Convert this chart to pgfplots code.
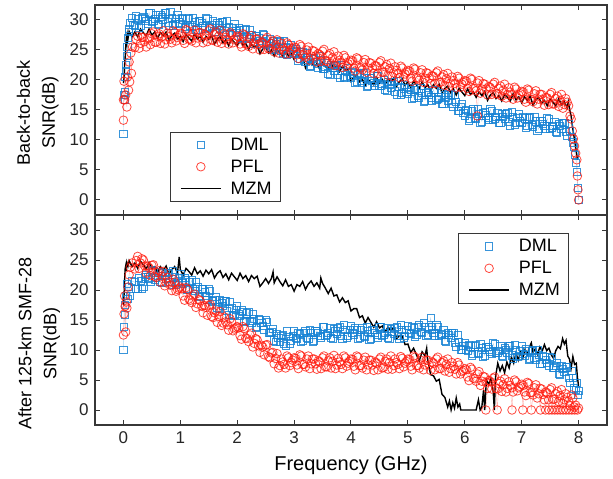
\documentclass[border=0pt]{standalone}
\usepackage{pgfplots}
\usepackage{pgfplotstable}
\pgfplotsset{compat=1.18}
\usepackage{fontspec}
\setmainfont{Liberation Sans}
\definecolor{dmlblue}{RGB}{22,130,212}
\definecolor{pflred}{RGB}{255,28,15}
\definecolor{axgray}{RGB}{55,55,55}

\pgfplotstableread[row sep=\\]{x y\\
0 11.0\\ 0.01 17.5\\ 0.02 16.7\\ 0.03 18.0\\ 0.03 20.5\\ 0.04 21.5\\ 0.05 22.5\\ 0.06 24.0\\ 0.07 25.5\\ 0.08 27.0\\ 0.09 28.0\\ 0.1 28.5\\ 0.12 29.5\\
0.15 30.4\\ 0.20 29.0\\ 0.25 30.1\\ 0.30 29.0\\ 0.35 30.5\\ 0.40 29.8\\ 0.45 31.2\\ 0.50 29.7\\ 0.55 30.2\\ 0.60 29.3\\ 0.65 30.9\\ 0.70 30.1\\ 0.75 31.1\\ 0.80 29.0\\ 0.85 30.4\\ 0.90 29.4\\ 0.95 30.9\\ 1.00 29.4\\ 1.05 30.1\\ 1.10 28.9\\
1.15 30.4\\ 1.20 28.9\\ 1.25 29.7\\ 1.30 28.4\\ 1.35 29.9\\ 1.40 29.0\\ 1.45 30.4\\ 1.50 28.7\\ 1.55 29.1\\ 1.60 28.1\\ 1.65 29.5\\ 1.70 28.6\\ 1.75 29.6\\ 1.80 27.5\\ 1.85 28.8\\ 1.90 27.8\\ 1.95 29.3\\ 2.00 27.8\\ 2.05 28.4\\ 2.10 27.0\\
2.15 28.5\\ 2.20 26.8\\ 2.25 27.5\\ 2.30 26.1\\ 2.35 27.4\\ 2.40 26.5\\ 2.45 27.7\\ 2.50 25.9\\ 2.55 26.2\\ 2.60 25.2\\ 2.65 26.5\\ 2.70 25.5\\ 2.75 26.5\\ 2.80 24.3\\ 2.85 25.5\\ 2.90 24.4\\ 2.95 25.9\\ 3.00 24.3\\ 3.05 24.9\\ 3.10 23.6\\
3.15 24.6\\ 3.20 23.0\\ 3.25 23.7\\ 3.30 22.3\\ 3.35 23.7\\ 3.40 22.7\\ 3.45 24.0\\ 3.50 21.8\\ 3.55 22.2\\ 3.60 21.1\\ 3.65 22.5\\ 3.70 21.5\\ 3.75 22.5\\ 3.80 20.3\\ 3.85 21.6\\ 3.90 20.5\\ 3.95 22.0\\ 4.00 20.4\\ 4.05 21.1\\ 4.10 19.7\\
4.15 21.2\\ 4.20 19.6\\ 4.25 20.4\\ 4.30 19.0\\ 4.35 20.4\\ 4.40 19.5\\ 4.45 20.7\\ 4.50 19.0\\ 4.55 19.4\\ 4.60 18.3\\ 4.65 19.7\\ 4.70 18.7\\ 4.75 19.7\\ 4.80 17.6\\ 4.85 18.8\\ 4.90 17.8\\ 4.95 19.2\\ 5.00 17.7\\ 5.05 18.4\\ 5.10 17.1\\
5.15 18.6\\ 5.20 17.0\\ 5.25 17.9\\ 5.30 16.6\\ 5.35 18.0\\ 5.40 17.1\\ 5.45 18.4\\ 5.50 16.7\\ 5.55 17.1\\ 5.60 16.1\\ 5.65 17.5\\ 5.70 16.6\\ 5.75 17.6\\ 5.80 15.5\\ 5.85 16.4\\ 5.90 14.9\\ 5.95 16.0\\ 6.00 14.0\\ 6.05 14.8\\ 6.10 13.5\\
6.15 15.1\\ 6.20 13.5\\ 6.25 14.4\\ 6.30 13.1\\ 6.35 14.6\\ 6.40 13.7\\ 6.45 15.1\\ 6.50 13.4\\ 6.55 13.8\\ 6.60 12.9\\ 6.65 14.3\\ 6.70 13.5\\ 6.75 14.5\\ 6.80 12.4\\ 6.85 13.8\\ 6.90 12.8\\ 6.95 14.4\\ 7.00 12.9\\ 7.05 13.6\\ 7.10 12.3\\
7.15 13.8\\ 7.20 12.2\\ 7.25 13.1\\ 7.30 11.8\\ 7.35 13.2\\ 7.40 12.3\\ 7.45 13.6\\ 7.50 11.9\\ 7.55 12.3\\ 7.60 11.3\\ 7.65 12.7\\ 7.70 11.8\\ 7.75 12.8\\ 7.80 10.7\\ 7.85 11.5\\ 7.88 10.5\\ 7.90 9.6\\ 7.92 8.8\\ 7.94 7.5\\ 7.96 6.2\\ 7.97 4.7\\ 7.99 2.0\\ 8.00 0.0\\
}\dmlA

\pgfplotstableread[row sep=\\]{x y\\
0.175 29.2\\ 0.225 30.7\\ 0.275 28.7\\ 0.325 30.4\\ 0.375 30.2\\ 0.425 29.4\\ 0.475 31.1\\ 0.525 29.9\\ 0.575 30.9\\ 0.625 29.2\\ 0.675 30.5\\ 0.725 31.1\\ 0.775 29.6\\ 0.825 31.3\\ 0.875 29.1\\ 0.925 30.2\\ 0.975 29.6\\ 1.025 30.4\\ 1.075 28.6\\ 1.125 30.2\\
1.175 29.1\\ 1.225 30.4\\ 1.275 28.3\\ 1.325 29.8\\ 1.375 29.5\\ 1.425 28.6\\ 1.475 30.2\\ 1.525 28.9\\ 1.575 29.8\\ 1.625 28.0\\ 1.675 29.1\\ 1.725 29.6\\ 1.775 28.1\\ 1.825 29.8\\ 1.875 27.6\\ 1.925 28.7\\ 1.975 28.1\\ 2.025 28.7\\ 2.075 26.8\\ 2.125 28.3\\
2.175 27.1\\ 2.225 28.3\\ 2.275 26.0\\ 2.325 27.4\\ 2.375 27.0\\ 2.425 26.0\\ 2.475 27.5\\ 2.525 26.0\\ 2.575 26.9\\ 2.625 25.0\\ 2.675 26.0\\ 2.725 26.4\\ 2.775 24.9\\ 2.825 26.5\\ 2.875 24.2\\ 2.925 25.3\\ 2.975 24.6\\ 3.025 25.2\\ 3.075 23.2\\ 3.125 24.6\\
3.175 23.4\\ 3.225 24.5\\ 3.275 22.2\\ 3.325 23.5\\ 3.375 23.0\\ 3.425 22.0\\ 3.475 23.4\\ 3.525 21.9\\ 3.575 22.8\\ 3.625 20.9\\ 3.675 22.0\\ 3.725 22.4\\ 3.775 20.9\\ 3.825 22.5\\ 3.875 20.3\\ 3.925 21.3\\ 3.975 20.7\\ 4.025 21.3\\ 4.075 19.5\\ 4.125 21.0\\
4.175 19.9\\ 4.225 21.1\\ 4.275 18.9\\ 4.325 20.4\\ 4.375 19.9\\ 4.425 19.0\\ 4.475 20.6\\ 4.525 19.1\\ 4.575 20.0\\ 4.625 18.2\\ 4.675 19.2\\ 4.725 19.7\\ 4.775 18.1\\ 4.825 19.8\\ 4.875 17.6\\ 4.925 18.6\\ 4.975 18.0\\ 5.025 18.7\\ 5.075 16.9\\ 5.125 18.4\\
5.175 17.3\\ 5.225 18.6\\ 5.275 16.4\\ 5.325 17.9\\ 5.375 17.5\\ 5.425 16.6\\ 5.475 18.3\\ 5.525 16.9\\ 5.575 17.8\\ 5.625 16.0\\ 5.675 17.1\\ 5.725 17.6\\ 5.775 16.1\\ 5.825 17.5\\ 5.875 14.9\\ 5.925 15.5\\ 5.975 14.5\\ 6.025 15.0\\ 6.075 13.2\\ 6.125 14.8\\
6.175 13.7\\ 6.225 15.1\\ 6.275 12.9\\ 6.325 14.5\\ 6.375 14.1\\ 6.425 13.3\\ 6.475 14.9\\ 6.525 13.6\\ 6.575 14.5\\ 6.625 12.8\\ 6.675 13.9\\ 6.725 14.4\\ 6.775 13.0\\ 6.825 14.7\\ 6.875 12.6\\ 6.925 13.7\\ 6.975 13.1\\ 7.025 13.9\\ 7.075 12.1\\ 7.125 13.6\\
7.175 12.5\\ 7.225 13.8\\ 7.275 11.6\\ 7.325 13.1\\ 7.375 12.7\\ 7.425 11.8\\ 7.475 13.5\\ 7.525 12.1\\ 7.575 13.0\\ 7.625 11.2\\ 7.675 12.3\\ 7.725 12.8\\ 7.775 11.3\\ 7.825 12.7\\
}\dmlAb

\pgfplotstableread[row sep=\\]{x y\\
0 13.3\\ 0 16.7\\ 0.01 19.8\\ 0.02 16.7\\ 0.04 17.5\\ 0.06 15.5\\ 0.07 20.5\\ 0.09 18.3\\ 0.1 23.0\\ 0.11 19.7\\ 0.13 24.5\\ 0.14 21.1\\ 0.16 25.5\\
0.20 25.4\\ 0.25 27.3\\ 0.30 26.1\\ 0.35 27.1\\ 0.40 25.5\\ 0.45 26.9\\ 0.50 27.7\\ 0.55 26.3\\ 0.60 27.3\\ 0.65 26.1\\ 0.70 28.2\\ 0.75 26.7\\ 0.80 27.2\\ 0.85 26.2\\ 0.90 27.9\\ 0.95 27.1\\ 1.00 27.8\\ 1.05 26.6\\ 1.10 28.4\\ 1.15 26.8\\
1.20 26.5\\ 1.25 28.3\\ 1.30 27.0\\ 1.35 27.9\\ 1.40 26.2\\ 1.45 27.5\\ 1.50 28.2\\ 1.55 26.7\\ 1.60 27.6\\ 1.65 26.3\\ 1.70 28.3\\ 1.75 26.7\\ 1.80 27.1\\ 1.85 26.0\\ 1.90 27.6\\ 1.95 26.7\\ 2.00 27.3\\ 2.05 26.0\\ 2.10 27.7\\ 2.15 26.0\\
2.20 25.6\\ 2.25 27.4\\ 2.30 26.0\\ 2.35 26.8\\ 2.40 25.0\\ 2.45 26.2\\ 2.50 26.8\\ 2.55 25.2\\ 2.60 26.1\\ 2.65 24.7\\ 2.70 26.7\\ 2.75 25.1\\ 2.80 25.5\\ 2.85 24.3\\ 2.90 25.9\\ 2.95 24.9\\ 3.00 25.5\\ 3.05 24.2\\ 3.10 25.9\\ 3.15 24.2\\
3.20 23.8\\ 3.25 25.5\\ 3.30 24.0\\ 3.35 24.8\\ 3.40 23.0\\ 3.45 24.2\\ 3.50 24.8\\ 3.55 23.2\\ 3.60 24.1\\ 3.65 22.7\\ 3.70 24.7\\ 3.75 23.0\\ 3.80 23.3\\ 3.85 22.1\\ 3.90 23.7\\ 3.95 22.7\\ 4.00 23.3\\ 4.05 22.0\\ 4.10 23.7\\ 4.15 22.1\\
4.20 21.7\\ 4.25 23.4\\ 4.30 22.0\\ 4.35 22.8\\ 4.40 21.1\\ 4.45 22.3\\ 4.50 22.9\\ 4.55 21.3\\ 4.60 22.2\\ 4.65 20.8\\ 4.70 22.8\\ 4.75 21.2\\ 4.80 21.6\\ 4.85 20.4\\ 4.90 22.0\\ 4.95 21.0\\ 5.00 21.6\\ 5.05 20.3\\ 5.10 22.0\\ 5.15 20.4\\
5.20 20.0\\ 5.25 21.7\\ 5.30 20.3\\ 5.35 21.1\\ 5.40 19.4\\ 5.45 20.6\\ 5.50 21.2\\ 5.55 19.6\\ 5.60 20.5\\ 5.65 19.1\\ 5.70 21.1\\ 5.75 19.5\\ 5.80 19.9\\ 5.85 18.7\\ 5.90 20.3\\ 5.95 19.3\\ 6.00 19.9\\ 6.05 18.6\\ 6.10 20.3\\ 6.15 18.6\\
6.20 18.2\\ 6.22 14.0\\ 6.25 19.9\\ 6.30 18.5\\ 6.35 19.3\\ 6.40 17.5\\ 6.45 18.7\\ 6.50 19.3\\ 6.55 17.7\\ 6.60 18.6\\ 6.65 17.3\\ 6.70 19.3\\ 6.75 17.6\\ 6.80 18.0\\ 6.85 16.8\\ 6.90 18.5\\ 6.95 17.5\\ 7.00 18.1\\ 7.05 16.8\\ 7.10 18.5\\ 7.15 16.8\\
7.20 16.4\\ 7.25 18.2\\ 7.30 16.8\\ 7.35 17.6\\ 7.40 15.8\\ 7.45 17.0\\ 7.50 17.6\\ 7.55 16.0\\ 7.60 16.9\\ 7.65 15.6\\ 7.70 17.6\\ 7.75 15.9\\ 7.80 16.3\\ 7.85 14.0\\ 7.87 13.5\\ 7.89 11.5\\ 7.91 10.2\\ 7.93 9.0\\ 7.95 7.8\\ 7.97 6.7\\ 7.98 4.0\\ 7.99 1.7\\ 8.00 0.0\\
}\pflA

\pgfplotstableread[row sep=\\]{x y\\
0.225 26.8\\ 0.275 25.3\\ 0.325 27.1\\ 0.375 26.4\\ 0.425 27.0\\ 0.475 25.9\\ 0.525 28.0\\ 0.575 26.3\\ 0.625 27.7\\ 0.675 27.2\\ 0.725 26.0\\ 0.775 27.8\\ 0.825 26.8\\ 0.875 28.2\\ 0.925 26.5\\ 0.975 27.4\\ 1.025 27.7\\ 1.075 26.1\\ 1.125 28.2\\ 1.175 26.8\\
1.225 27.8\\ 1.275 26.2\\ 1.325 27.9\\ 1.375 27.1\\ 1.425 27.6\\ 1.475 26.4\\ 1.525 28.5\\ 1.575 26.6\\ 1.625 28.0\\ 1.675 27.3\\ 1.725 26.1\\ 1.775 27.7\\ 1.825 26.7\\ 1.875 27.9\\ 1.925 26.2\\ 1.975 26.9\\ 2.025 27.2\\ 2.075 25.5\\ 2.125 27.5\\ 2.175 26.0\\
2.225 26.9\\ 2.275 25.2\\ 2.325 26.8\\ 2.375 25.9\\ 2.425 26.3\\ 2.475 25.1\\ 2.525 27.1\\ 2.575 25.2\\ 2.625 26.5\\ 2.675 25.8\\ 2.725 24.5\\ 2.775 26.1\\ 2.825 25.0\\ 2.875 26.2\\ 2.925 24.4\\ 2.975 25.2\\ 3.025 25.4\\ 3.075 23.6\\ 3.125 25.6\\ 3.175 24.1\\
3.225 25.0\\ 3.275 23.3\\ 3.325 24.9\\ 3.375 24.0\\ 3.425 24.4\\ 3.475 23.1\\ 3.525 25.1\\ 3.575 23.1\\ 3.625 24.4\\ 3.675 23.7\\ 3.725 22.4\\ 3.775 24.0\\ 3.825 22.9\\ 3.875 24.1\\ 3.925 22.3\\ 3.975 23.0\\ 4.025 23.2\\ 4.075 21.5\\ 4.125 23.5\\ 4.175 22.0\\
4.225 22.9\\ 4.275 21.3\\ 4.325 22.9\\ 4.375 22.0\\ 4.425 22.4\\ 4.475 21.1\\ 4.525 23.2\\ 4.575 21.3\\ 4.625 22.6\\ 4.675 21.9\\ 4.725 20.6\\ 4.775 22.2\\ 4.825 21.1\\ 4.875 22.3\\ 4.925 20.5\\ 4.975 21.3\\ 5.025 21.5\\ 5.075 19.8\\ 5.125 21.8\\ 5.175 20.3\\
5.225 21.2\\ 5.275 19.6\\ 5.325 21.2\\ 5.375 20.3\\ 5.425 20.7\\ 5.475 19.4\\ 5.525 21.5\\ 5.575 19.6\\ 5.625 20.9\\ 5.675 20.2\\ 5.725 18.9\\ 5.775 20.5\\ 5.825 19.4\\ 5.875 20.6\\ 5.925 18.8\\ 5.975 19.6\\ 6.025 19.8\\ 6.075 18.1\\ 6.125 20.1\\ 6.175 18.6\\
6.225 19.5\\ 6.275 17.8\\ 6.325 19.4\\ 6.375 18.5\\ 6.425 18.9\\ 6.475 17.6\\ 6.525 19.6\\ 6.575 17.7\\ 6.625 19.0\\ 6.675 18.3\\ 6.725 17.0\\ 6.775 18.7\\ 6.825 17.6\\ 6.875 18.8\\ 6.925 17.0\\ 6.975 17.7\\ 7.025 18.0\\ 7.075 16.3\\ 7.125 18.3\\ 7.175 16.8\\
7.225 17.7\\ 7.275 16.0\\ 7.325 17.6\\ 7.375 16.7\\ 7.425 17.1\\ 7.475 15.9\\ 7.525 17.9\\ 7.575 16.0\\ 7.625 17.3\\ 7.675 16.6\\ 7.725 15.3\\ 7.775 16.9\\ 7.825 15.7\\
}\pflAb

\pgfplotstableread[row sep=\\]{x y\\
0 19.5\\ 0.01 20.5\\ 0.02 22.5\\ 0.03 23.8\\ 0.04 25.5\\ 0.05 26.8\\ 0.06 26.2\\ 0.07 27.5\\ 0.08 26.9\\
0.10 28.1\\ 0.15 27.2\\ 0.20 28.0\\ 0.25 27.2\\ 0.30 28.5\\ 0.35 27.9\\ 0.40 27.4\\ 0.45 28.5\\ 0.50 27.5\\ 0.55 28.0\\ 0.60 27.0\\ 0.65 27.9\\ 0.70 27.4\\ 0.75 28.0\\ 0.80 26.6\\ 0.85 27.4\\
0.90 27.8\\ 0.95 26.8\\ 1.00 27.3\\ 1.05 26.4\\ 1.10 27.6\\ 1.15 27.0\\ 1.20 26.5\\ 1.25 27.7\\ 1.30 26.8\\ 1.35 27.3\\ 1.40 26.3\\ 1.45 27.3\\ 1.50 26.8\\ 1.55 27.4\\ 1.60 26.0\\ 1.65 26.8\\
1.70 27.2\\ 1.75 26.2\\ 1.80 26.7\\ 1.85 25.7\\ 1.90 26.8\\ 1.95 26.3\\ 2.00 25.7\\ 2.05 26.8\\ 2.10 25.8\\ 2.15 26.1\\ 2.20 25.1\\ 2.25 26.0\\ 2.30 25.4\\ 2.35 25.9\\ 2.40 24.4\\ 2.45 25.2\\
2.50 25.6\\ 2.55 24.5\\ 2.60 25.0\\ 2.65 24.0\\ 2.70 25.1\\ 2.75 24.5\\ 2.80 23.9\\ 2.85 25.0\\ 2.90 24.0\\ 2.95 24.4\\ 3.00 23.4\\ 3.05 24.3\\ 3.10 23.7\\ 3.15 23.9\\ 3.20 22.0\\ 3.25 22.8\\
3.30 23.3\\ 3.35 22.2\\ 3.40 22.7\\ 3.45 21.8\\ 3.50 22.9\\ 3.55 22.3\\ 3.60 21.8\\ 3.65 22.9\\ 3.70 21.9\\ 3.75 22.3\\ 3.80 21.4\\ 3.85 22.3\\ 3.90 21.7\\ 3.95 21.8\\ 4.00 19.8\\ 4.05 20.5\\
4.10 20.9\\ 4.15 19.7\\ 4.20 20.1\\ 4.25 19.1\\ 4.30 20.1\\ 4.35 19.6\\ 4.40 19.2\\ 4.45 20.4\\ 4.50 19.5\\ 4.55 20.1\\ 4.60 19.2\\ 4.65 20.2\\ 4.70 19.6\\ 4.75 20.3\\ 4.80 18.9\\ 4.85 19.7\\
4.90 20.2\\ 4.95 19.1\\ 5.00 19.7\\ 5.05 18.7\\ 5.10 19.8\\ 5.15 19.2\\ 5.20 18.6\\ 5.25 19.7\\ 5.30 18.7\\ 5.35 19.2\\ 5.40 18.2\\ 5.45 19.2\\ 5.50 18.6\\ 5.55 19.3\\ 5.60 17.8\\ 5.65 18.6\\
5.70 19.0\\ 5.75 17.9\\ 5.80 18.5\\ 5.85 17.5\\ 5.90 18.6\\ 5.95 18.0\\ 6.00 17.4\\ 6.05 18.5\\ 6.10 17.6\\ 6.15 18.0\\ 6.20 17.1\\ 6.25 18.0\\ 6.30 17.4\\ 6.35 18.1\\ 6.40 16.6\\ 6.45 17.5\\
6.50 17.9\\ 6.55 16.9\\ 6.60 17.4\\ 6.65 16.5\\ 6.70 17.6\\ 6.75 17.1\\ 6.80 16.5\\ 6.85 17.7\\ 6.90 16.7\\ 6.95 17.2\\ 7.00 16.2\\ 7.05 17.2\\ 7.10 16.6\\ 7.15 17.3\\ 7.20 15.8\\ 7.25 16.7\\
7.30 17.1\\ 7.35 16.1\\ 7.40 16.6\\ 7.45 15.7\\ 7.50 16.8\\ 7.55 16.3\\ 7.60 15.7\\ 7.65 16.9\\ 7.70 15.9\\ 7.75 16.4\\ 7.80 15.4\\ 7.82 16.4\\ 7.85 14.8\\ 7.87 14.0\\ 7.89 12.5\\ 7.91 11.2\\ 7.93 10.0\\ 7.95 8.8\\ 7.97 7.5\\ 7.98 6.7\\
}\mzmA

\pgfplotstableread[row sep=\\]{x y\\
0 10.0\\ 0.01 13.8\\ 0.02 15.8\\ 0.03 17.5\\ 0.05 19.0\\ 0.06 21.0\\ 0.08 18.5\\ 0.1 20.5\\ 0.12 19.0\\ 0.15 21.5\\
0.20 21.3\\ 0.25 20.2\\ 0.30 21.5\\ 0.35 20.6\\ 0.40 22.5\\ 0.45 21.8\\ 0.50 23.3\\ 0.55 21.7\\ 0.60 22.3\\ 0.65 21.3\\ 0.70 22.8\\ 0.75 21.9\\ 0.80 22.9\\ 0.85 20.8\\ 0.90 22.2\\ 0.95 21.2\\ 1.00 22.7\\ 1.05 21.1\\ 1.10 21.6\\ 1.15 20.2\\
1.20 21.6\\ 1.25 19.8\\ 1.30 20.5\\ 1.35 19.0\\ 1.40 20.1\\ 1.45 19.0\\ 1.50 20.1\\ 1.55 18.1\\ 1.60 18.3\\ 1.65 17.1\\ 1.70 18.4\\ 1.75 17.3\\ 1.80 18.1\\ 1.85 15.9\\ 1.90 17.0\\ 1.95 15.9\\ 2.00 17.3\\ 2.05 15.7\\ 2.10 16.3\\ 2.15 14.9\\
2.20 16.3\\ 2.25 14.6\\ 2.30 15.2\\ 2.35 13.8\\ 2.40 15.0\\ 2.45 14.0\\ 2.50 15.0\\ 2.55 12.9\\ 2.60 13.0\\ 2.65 11.6\\ 2.70 12.6\\ 2.75 11.3\\ 2.80 12.5\\ 2.85 10.7\\ 2.90 12.2\\ 2.95 11.5\\ 3.00 13.2\\ 3.05 11.9\\ 3.10 12.7\\ 3.15 11.6\\
3.20 13.2\\ 3.25 11.8\\ 3.30 12.8\\ 3.35 11.6\\ 3.40 13.2\\ 3.45 12.4\\ 3.50 13.9\\ 3.55 12.3\\ 3.60 12.8\\ 3.65 12.0\\ 3.70 13.5\\ 3.75 12.7\\ 3.80 13.8\\ 3.85 11.8\\ 3.90 13.3\\ 3.95 12.4\\ 4.00 14.0\\ 4.05 12.6\\ 4.10 13.4\\ 4.15 12.1\\
4.20 13.7\\ 4.25 12.2\\ 4.30 13.1\\ 4.35 11.9\\ 4.40 13.3\\ 4.45 12.5\\ 4.50 13.9\\ 4.55 12.3\\ 4.60 12.8\\ 4.65 12.0\\ 4.70 13.5\\ 4.75 12.7\\ 4.80 13.8\\ 4.85 11.8\\ 4.90 13.3\\ 4.95 12.4\\ 5.00 14.0\\ 5.05 12.7\\ 5.10 13.6\\ 5.15 12.5\\
5.20 14.2\\ 5.25 12.8\\ 5.30 13.8\\ 5.35 12.5\\ 5.40 15.3\\ 5.42 13.8\\ 5.45 12.9\\ 5.50 14.1\\ 5.55 12.3\\ 5.60 12.7\\ 5.65 11.6\\ 5.70 12.9\\ 5.75 12.0\\ 5.80 12.9\\ 5.85 10.5\\ 5.90 11.4\\ 5.95 10.1\\ 6.00 11.2\\ 6.05 9.8\\ 6.10 10.6\\ 6.15 9.3\\
6.20 10.9\\ 6.25 9.4\\ 6.30 10.3\\ 6.35 9.1\\ 6.40 10.5\\ 6.45 9.7\\ 6.50 11.1\\ 6.55 9.5\\ 6.60 9.9\\ 6.65 9.0\\ 6.70 10.4\\ 6.75 9.6\\ 6.80 10.7\\ 6.85 8.6\\ 6.90 10.0\\ 6.95 9.0\\ 7.00 10.6\\ 7.05 9.1\\ 7.10 9.8\\ 7.15 8.5\\
7.20 10.0\\ 7.25 8.4\\ 7.30 9.2\\ 7.35 7.7\\ 7.40 8.9\\ 7.45 7.8\\ 7.50 8.9\\ 7.55 7.0\\ 7.60 7.3\\ 7.65 6.1\\ 7.70 7.3\\ 7.75 6.3\\ 7.80 7.1\\ 7.85 4.5\\ 7.90 5.3\\ 7.95 3.4\\ 7.97 4.5\\ 7.99 2.5\\ 8.00 3.2\\
}\dmlB

\pgfplotstableread[row sep=\\]{x y\\
0.225 20.2\\ 0.275 22.0\\ 0.325 20.2\\ 0.375 22.2\\ 0.425 22.1\\ 0.475 21.4\\ 0.525 23.2\\ 0.575 22.0\\ 0.625 23.0\\ 0.675 21.2\\ 0.725 22.3\\ 0.775 22.8\\ 0.825 21.4\\ 0.875 23.1\\ 0.925 20.9\\ 0.975 22.0\\ 1.025 21.4\\ 1.075 22.0\\ 1.125 20.0\\ 1.175 21.4\\
1.225 20.2\\ 1.275 21.3\\ 1.325 18.9\\ 1.375 20.2\\ 1.425 19.6\\ 1.475 18.4\\ 1.525 19.8\\ 1.575 18.2\\ 1.625 18.9\\ 1.675 16.9\\ 1.725 17.8\\ 1.775 18.2\\ 1.825 16.5\\ 1.875 18.0\\ 1.925 15.7\\ 1.975 16.7\\ 2.025 16.0\\ 2.075 16.6\\ 2.125 14.7\\ 2.175 16.1\\
2.225 14.9\\ 2.275 16.0\\ 2.325 13.7\\ 2.375 15.1\\ 2.425 14.5\\ 2.475 13.4\\ 2.525 14.7\\ 2.575 12.9\\ 2.625 13.5\\ 2.675 11.3\\ 2.725 12.0\\ 2.775 12.4\\ 2.825 11.1\\ 2.875 13.1\\ 2.925 11.1\\ 2.975 12.4\\ 3.025 12.0\\ 3.075 12.9\\ 3.125 11.3\\ 3.175 12.9\\
3.225 12.0\\ 3.275 13.4\\ 3.325 11.4\\ 3.375 13.1\\ 3.425 12.8\\ 3.475 12.1\\ 3.525 13.8\\ 3.575 12.5\\ 3.625 13.6\\ 3.675 11.9\\ 3.725 13.1\\ 3.775 13.7\\ 3.825 12.3\\ 3.875 14.2\\ 3.925 12.1\\ 3.975 13.3\\ 4.025 12.8\\ 4.075 13.6\\ 4.125 11.9\\ 4.175 13.4\\
4.225 12.4\\ 4.275 13.8\\ 4.325 11.7\\ 4.375 13.3\\ 4.425 12.9\\ 4.475 12.1\\ 4.525 13.8\\ 4.575 12.5\\ 4.625 13.6\\ 4.675 11.9\\ 4.725 13.1\\ 4.775 13.7\\ 4.825 12.3\\ 4.875 14.2\\ 4.925 12.1\\ 4.975 13.3\\ 5.025 12.9\\ 5.075 13.8\\ 5.125 12.2\\ 5.175 13.9\\
5.225 13.0\\ 5.275 14.5\\ 5.325 12.3\\ 5.375 13.8\\ 5.425 13.3\\ 5.475 12.4\\ 5.525 13.9\\ 5.575 12.5\\ 5.625 13.3\\ 5.675 11.4\\ 5.725 12.5\\ 5.775 12.9\\ 5.825 11.2\\ 5.875 12.5\\ 5.925 10.0\\ 5.975 10.7\\ 6.025 10.0\\ 6.075 10.8\\ 6.125 9.1\\ 6.175 10.6\\
6.225 9.6\\ 6.275 11.0\\ 6.325 8.9\\ 6.375 10.5\\ 6.425 10.1\\ 6.475 9.3\\ 6.525 11.0\\ 6.575 9.6\\ 6.625 10.6\\ 6.675 8.9\\ 6.725 10.0\\ 6.775 10.6\\ 6.825 9.1\\ 6.875 10.9\\ 6.925 8.8\\ 6.975 9.9\\ 7.025 9.4\\ 7.075 10.1\\ 7.125 8.3\\ 7.175 9.8\\
7.225 8.7\\ 7.275 10.0\\ 7.325 7.7\\ 7.375 9.0\\ 7.425 8.4\\ 7.475 7.3\\ 7.525 8.7\\ 7.575 7.1\\ 7.625 7.8\\ 7.675 5.9\\ 7.725 6.8\\ 7.775 7.1\\ 7.825 5.3\\ 7.875 6.5\\ 7.925 3.6\\
}\dmlBb

\pgfplotstableread[row sep=\\]{x y\\
0 12.5\\ 0.01 16.0\\ 0.02 19.0\\ 0.03 17.3\\ 0.04 13.0\\ 0.05 18.0\\ 0.06 17.0\\ 0.08 20.5\\ 0.1 22.5\\ 0.12 23.8\\ 0.15 24.5\\
0.20 23.5\\ 0.25 25.6\\ 0.30 24.5\\ 0.35 25.0\\ 0.40 22.8\\ 0.45 23.7\\ 0.50 24.1\\ 0.55 22.3\\ 0.60 22.9\\ 0.65 21.3\\ 0.70 23.1\\ 0.75 21.2\\ 0.80 21.4\\ 0.85 19.9\\ 0.90 21.3\\ 0.95 20.1\\ 1.00 20.5\\ 1.05 19.0\\ 1.10 20.4\\ 1.15 18.5\\
1.20 17.9\\ 1.25 19.3\\ 1.30 17.7\\ 1.35 18.2\\ 1.40 16.2\\ 1.45 17.1\\ 1.50 17.4\\ 1.55 15.6\\ 1.60 16.2\\ 1.65 14.6\\ 1.70 16.4\\ 1.75 14.5\\ 1.80 14.7\\ 1.85 13.3\\ 1.90 14.7\\ 1.95 13.5\\ 2.00 13.9\\ 2.05 12.4\\ 2.10 13.9\\ 2.15 12.0\\
2.20 11.4\\ 2.25 12.8\\ 2.30 11.1\\ 2.35 11.7\\ 2.40 9.6\\ 2.45 10.5\\ 2.50 10.8\\ 2.55 8.9\\ 2.60 9.5\\ 2.65 7.7\\ 2.70 9.4\\ 2.75 7.4\\ 2.80 8.0\\ 2.85 7.0\\ 2.90 8.7\\ 2.95 7.9\\ 3.00 8.7\\ 3.05 7.5\\ 3.10 9.2\\ 3.15 7.6\\
3.20 7.2\\ 3.25 9.0\\ 3.30 7.7\\ 3.35 8.5\\ 3.40 6.8\\ 3.45 8.0\\ 3.50 8.7\\ 3.55 7.2\\ 3.60 8.2\\ 3.65 7.0\\ 3.70 9.1\\ 3.75 7.5\\ 3.80 8.0\\ 3.85 6.9\\ 3.90 8.7\\ 3.95 7.8\\ 4.00 8.5\\ 4.05 7.3\\ 4.10 9.0\\ 4.15 7.4\\
4.20 7.0\\ 4.25 8.8\\ 4.30 7.5\\ 4.35 8.3\\ 4.40 6.6\\ 4.45 7.8\\ 4.50 8.5\\ 4.55 7.0\\ 4.60 8.1\\ 4.65 6.8\\ 4.70 9.0\\ 4.75 7.4\\ 4.80 7.9\\ 4.85 6.9\\ 4.90 8.6\\ 4.95 7.8\\ 5.00 8.5\\ 5.05 7.3\\ 5.10 9.0\\ 5.15 7.4\\
5.20 7.0\\ 5.25 8.8\\ 5.30 7.5\\ 5.35 8.3\\ 5.40 6.6\\ 5.45 7.8\\ 5.50 8.5\\ 5.55 6.9\\ 5.60 7.9\\ 5.65 6.5\\ 5.70 8.5\\ 5.75 6.9\\ 5.80 7.3\\ 5.85 6.0\\ 5.90 7.5\\ 5.95 6.4\\ 6.00 6.9\\ 6.05 5.5\\ 6.10 7.1\\ 6.15 5.3\\
6.20 4.8\\ 6.25 6.4\\ 6.30 4.8\\ 6.35 5.5\\ 6.37 0.0\\ 6.40 3.6\\ 6.45 4.7\\ 6.50 5.3\\ 6.55 3.6\\ 6.57 0.0\\ 6.60 4.4\\ 6.65 3.1\\ 6.70 5.2\\ 6.75 3.6\\ 6.80 4.1\\ 6.83 0.0\\ 6.85 3.0\\ 6.90 4.7\\ 6.95 3.7\\ 7.00 4.3\\ 7.02 0.0\\ 7.05 3.0\\ 7.10 4.6\\ 7.15 2.9\\ 7.17 0.0\\
7.20 2.5\\ 7.25 4.2\\ 7.30 2.7\\ 7.33 0.0\\ 7.35 3.5\\ 7.40 1.7\\ 7.42 0.0\\ 7.45 2.8\\ 7.48 0.0\\ 7.50 3.4\\ 7.53 0.0\\ 7.55 1.8\\ 7.58 0.0\\ 7.60 2.7\\ 7.63 0.0\\ 7.65 1.4\\ 7.68 0.0\\ 7.70 3.4\\ 7.73 0.0\\ 7.75 1.7\\ 7.78 0.0\\ 7.80 2.1\\ 7.83 0.0\\ 7.85 0.7\\ 7.88 0.0\\ 7.90 2.0\\ 7.93 0.0\\ 7.95 0.8\\ 7.98 0.0\\ 8.00 0.3\\
}\pflB

\pgfplotstableread[row sep=\\]{x y\\
0.225 24.9\\ 0.275 23.6\\ 0.325 25.2\\ 0.375 24.0\\ 0.425 24.0\\ 0.475 22.4\\ 0.525 24.2\\ 0.575 22.1\\ 0.625 23.2\\ 0.675 22.3\\ 0.725 20.7\\ 0.775 22.1\\ 0.825 20.8\\ 0.875 21.8\\ 0.925 19.8\\ 0.975 20.3\\ 1.025 20.2\\ 1.075 18.3\\ 1.125 20.1\\ 1.175 18.3\\
1.225 19.0\\ 1.275 17.1\\ 1.325 18.4\\ 1.375 17.3\\ 1.425 17.4\\ 1.475 15.8\\ 1.525 17.6\\ 1.575 15.4\\ 1.625 16.5\\ 1.675 15.6\\ 1.725 14.1\\ 1.775 15.5\\ 1.825 14.2\\ 1.875 15.2\\ 1.925 13.2\\ 1.975 13.7\\ 2.025 13.7\\ 2.075 11.8\\ 2.125 13.6\\ 2.175 11.9\\
2.225 12.5\\ 2.275 10.5\\ 2.325 11.9\\ 2.375 10.7\\ 2.425 10.8\\ 2.475 9.2\\ 2.525 10.9\\ 2.575 8.7\\ 2.625 9.6\\ 2.675 8.6\\ 2.725 7.0\\ 2.775 8.5\\ 2.825 7.6\\ 2.875 9.0\\ 2.925 7.4\\ 2.975 8.3\\ 3.025 8.6\\ 3.075 6.9\\ 3.125 9.0\\ 3.175 7.6\\
3.225 8.5\\ 3.275 6.9\\ 3.325 8.5\\ 3.375 7.7\\ 3.425 8.2\\ 3.475 6.9\\ 3.525 9.0\\ 3.575 7.2\\ 3.625 8.7\\ 3.675 8.1\\ 3.725 6.9\\ 3.775 8.6\\ 3.825 7.6\\ 3.875 9.0\\ 3.925 7.3\\ 3.975 8.1\\ 4.025 8.4\\ 4.075 6.7\\ 4.125 8.8\\ 4.175 7.4\\
4.225 8.3\\ 4.275 6.7\\ 4.325 8.3\\ 4.375 7.5\\ 4.425 8.0\\ 4.475 6.7\\ 4.525 8.8\\ 4.575 7.1\\ 4.625 8.5\\ 4.675 7.9\\ 4.725 6.8\\ 4.775 8.5\\ 4.825 7.6\\ 4.875 8.9\\ 4.925 7.2\\ 4.975 8.1\\ 5.025 8.4\\ 5.075 6.7\\ 5.125 8.8\\ 5.175 7.4\\
5.225 8.3\\ 5.275 6.7\\ 5.325 8.3\\ 5.375 7.5\\ 5.425 8.0\\ 5.475 6.7\\ 5.525 8.8\\ 5.575 6.9\\ 5.625 8.2\\ 5.675 7.6\\ 5.725 6.3\\ 5.775 7.9\\ 5.825 6.8\\ 5.875 7.9\\ 5.925 6.0\\ 5.975 6.6\\ 6.025 6.7\\ 6.075 4.9\\ 6.125 6.8\\ 6.175 5.2\\
6.225 6.0\\ 6.275 4.1\\ 6.325 5.6\\ 6.375 4.6\\ 6.425 4.9\\ 6.475 3.5\\ 6.525 5.5\\ 6.575 3.5\\ 6.625 4.8\\ 6.675 4.2\\ 6.725 3.0\\ 6.775 4.7\\ 6.825 3.7\\ 6.875 5.0\\ 6.925 3.2\\ 6.975 3.9\\ 7.025 4.1\\ 7.075 2.4\\ 7.125 4.4\\ 7.175 2.9\\
7.225 3.7\\ 7.275 2.0\\ 7.325 3.6\\ 7.375 2.6\\ 7.425 3.0\\ 7.475 1.7\\ 7.525 3.7\\ 7.575 1.8\\ 7.625 3.1\\ 7.675 2.4\\ 7.725 1.1\\ 7.775 2.7\\ 7.825 1.5\\ 7.875 2.5\\ 7.925 0.5\\
}\pflBb

\pgfplotstableread[row sep=\\]{x y\\
0 17.5\\ 0.01 19.0\\ 0.02 21.5\\ 0.03 23.5\\ 0.04 24.0\\ 0.05 23.2\\ 0.06 24.6\\ 0.08 24.0\\
0.10 24.9\\ 0.15 23.9\\ 0.20 24.5\\ 0.25 23.6\\ 0.30 24.8\\ 0.35 24.2\\ 0.40 23.5\\ 0.45 24.6\\ 0.50 23.6\\ 0.55 23.9\\ 0.60 22.9\\ 0.65 23.9\\ 0.70 23.3\\ 0.75 24.0\\ 0.80 22.6\\ 0.85 23.4\\
0.90 23.9\\ 0.95 22.8\\ 0.98 25.5\\ 1.00 23.4\\ 1.05 22.5\\ 1.10 23.6\\ 1.15 23.1\\ 1.20 22.5\\ 1.25 23.7\\ 1.30 22.7\\ 1.35 23.2\\ 1.40 22.3\\ 1.45 23.3\\ 1.50 22.7\\ 1.55 23.4\\ 1.60 22.0\\ 1.65 22.8\\
1.70 23.2\\ 1.75 22.1\\ 1.80 22.7\\ 1.85 21.7\\ 1.90 22.8\\ 1.95 22.2\\ 2.00 21.6\\ 2.05 22.8\\ 2.10 21.9\\ 2.15 22.4\\ 2.20 21.4\\ 2.25 22.4\\ 2.30 21.9\\ 2.35 22.3\\ 2.40 20.6\\ 2.45 21.2\\
2.50 21.9\\ 2.55 21.1\\ 2.60 21.9\\ 2.63 23.0\\ 2.65 21.2\\ 2.70 22.2\\ 2.75 21.4\\ 2.80 20.7\\ 2.85 21.7\\ 2.90 20.6\\ 2.95 20.9\\ 3.00 19.8\\ 3.05 20.9\\ 3.10 20.6\\ 3.15 21.4\\ 3.20 20.1\\ 3.25 21.0\\
3.30 21.5\\ 3.35 20.6\\ 3.40 21.2\\ 3.45 20.3\\ 3.47 22.0\\ 3.50 21.1\\ 3.55 20.3\\ 3.60 19.4\\ 3.65 20.3\\ 3.70 19.0\\ 3.75 19.2\\ 3.80 18.0\\ 3.85 18.7\\ 3.90 17.9\\ 3.95 18.2\\ 4.00 16.5\\ 4.05 16.9\\
4.10 16.9\\ 4.15 15.4\\ 4.20 15.7\\ 4.25 14.5\\ 4.30 15.4\\ 4.35 14.6\\ 4.40 13.8\\ 4.45 14.7\\ 4.50 13.7\\ 4.55 14.0\\ 4.60 13.0\\ 4.65 13.8\\ 4.70 13.2\\ 4.75 13.8\\ 4.80 11.9\\ 4.85 12.4\\
4.90 12.4\\ 4.95 10.9\\ 5.00 11.0\\ 5.05 9.6\\ 5.10 10.3\\ 5.15 9.2\\ 5.20 8.2\\ 5.25 9.7\\ 5.30 9.0\\ 5.33 10.3\\ 5.35 8.2\\ 5.40 5.9\\ 5.45 5.7\\ 5.50 4.8\\ 5.55 5.1\\ 5.60 2.6\\ 5.65 2.1\\ 5.70 0.5\\
5.73 1.5\\ 5.76 0.0\\ 5.79 1.2\\ 5.82 0.3\\ 5.85 2.0\\ 5.88 0.5\\ 5.91 1.0\\ 5.93 0.0\\ 6.00 0.0\\ 6.05 0.0\\ 6.10 0.0\\ 6.15 0.0\\ 6.20 0.0\\ 6.24 1.7\\ 6.27 0.0\\ 6.30 0.5\\ 6.33 3.3\\ 6.35 0.0\\ 6.38 5.0\\ 6.42 4.3\\ 6.46 5.2\\ 6.50 3.0\\ 6.52 0.0\\ 6.54 5.5\\ 6.58 7.8\\ 6.62 6.5\\ 6.66 7.4\\ 6.70 6.2\\ 6.74 8.0\\ 6.78 7.0\\ 6.82 8.8\\ 6.86 7.8\\ 6.90 9.5\\ 6.94 8.3\\ 6.98 9.6\\ 7.02 8.6\\ 7.06 10.1\\ 7.10 9.3\\ 7.14 10.6\\ 7.17 11.2\\ 7.20 9.6\\ 7.24 10.2\\ 7.28 9.3\\ 7.32 10.5\\ 7.36 9.8\\ 7.40 10.9\\ 7.44 9.9\\ 7.48 10.3\\ 7.52 9.2\\ 7.56 8.6\\ 7.60 9.9\\ 7.64 10.6\\ 7.68 10.2\\ 7.72 11.9\\ 7.75 11.0\\ 7.78 11.6\\ 7.81 9.0\\ 7.84 8.5\\ 7.87 7.0\\ 7.90 8.9\\ 7.93 7.6\\ 7.96 7.8\\ 7.98 5.5\\ 8.00 4.0\\
}\mzmB

\pgfplotsset{
  panel/.style={
    scale only axis, width=512pt, height=210pt, anchor=south west,
    xmin=-0.5, xmax=8.5, ymin=-2.5, ymax=32.5,
    xtick={0,1,...,8}, ytick={0,5,...,30},
    axis line style={axgray, line width=1.1pt},
    major tick style={axgray, line width=1pt},
    major tick length=5pt,
    /pgf/number format/assume math mode=true,
    tick label style={font=\fontsize{17}{17}\selectfont, black!85},
    yticklabel style={xshift=-3pt},
    xticklabel style={yshift=-3pt},
    legend cell align=left,
    legend image code/.code={\path (-3pt,0pt) (47pt,0pt); \draw[mark repeat=2,mark phase=2,##1] plot coordinates {(0pt,0pt) (20pt,0pt) (40pt,0pt)};},
  },
  dml/.style={only marks, mark=square, mark size=3.6pt, dmlblue, mark options={draw opacity=0.85, line width=0.8pt, fill=none}},
  pfl/.style={only marks, mark=o, mark size=4.3pt, pflred, mark options={draw opacity=0.8, line width=0.8pt, fill=none}},
  mzm/.style={no marks, black, line width=1.4pt},
  leg/.style={draw=axgray, line width=0.8pt, font=\fontsize{18}{21}\selectfont, inner xsep=7pt, inner ysep=4pt, row sep=4pt},
}

\begin{document}
\begin{tikzpicture}
\useasboundingbox (0pt,0pt) rectangle (613pt,479pt);
\begin{axis}[panel, at={(95pt,264pt)}, xticklabels={},
  ylabel={Back-to-back\\SNR(dB)},
  ylabel style={align=center, at={(axis description cs:-0.112,0.488)}, anchor=center, font=\fontsize{18}{25}\selectfont},
  legend style={leg, at={(axis description cs:0.146,0.062)}, anchor=south west},
]
\addplot[forget plot, dmlblue, line width=0.4pt, opacity=0.35] table {\dmlA};
\addplot[forget plot, pflred, line width=0.4pt, opacity=0.35] table {\pflA};
\addplot[dml, forget plot] table {\dmlAb};
\addplot[dml] table {\dmlA};
\addplot[pfl, forget plot] table {\pflAb};
\addplot[pfl] table {\pflA};
\addplot[mzm] table {\mzmA};
\legend{DML, PFL, MZM}
\node[anchor=base, font=\fontsize{22}{22}\selectfont] at (axis description cs:-0.141,0.924) {a};
\end{axis}
\begin{axis}[panel, at={(95pt,54pt)},
  xlabel={Frequency (GHz)},
  xlabel style={at={(axis description cs:0.5,-0.19)}, anchor=center, font=\fontsize{20}{22}\selectfont},
  ylabel={After 125-km SMF-28\\SNR(dB)},
  ylabel style={align=center, at={(axis description cs:-0.109,0.39)}, anchor=center, font=\fontsize{18}{25}\selectfont},
  legend style={leg, at={(axis description cs:0.709,0.914)}, anchor=north west},
]
\addplot[forget plot, dmlblue, line width=0.4pt, opacity=0.35] table {\dmlB};
\addplot[forget plot, pflred, line width=0.4pt, opacity=0.35] table {\pflB};
\addplot[dml, forget plot] table {\dmlBb};
\addplot[dml] table {\dmlB};
\addplot[pfl, forget plot] table {\pflBb};
\addplot[pfl] table {\pflB};
\addplot[mzm] table {\mzmB};
\legend{DML, PFL, MZM}
\node[anchor=base, font=\fontsize{22}{22}\selectfont] at (axis description cs:-0.137,0.905) {b};
\end{axis}
\end{tikzpicture}
\end{document}
